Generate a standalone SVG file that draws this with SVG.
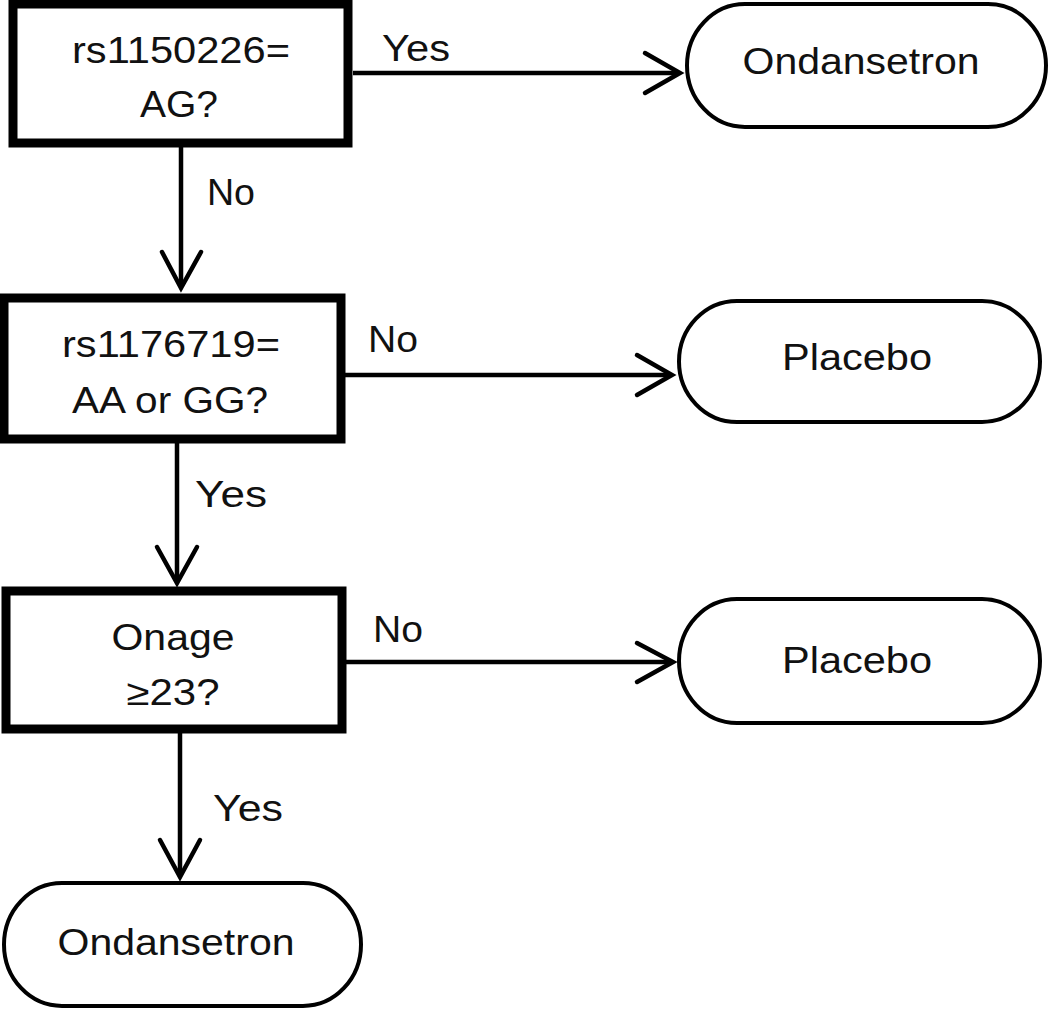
<svg xmlns="http://www.w3.org/2000/svg" width="1050" height="1011" viewBox="0 0 1050 1011">
<style>
.box{fill:#fff;stroke:#000;stroke-width:9}
.pill{fill:#fff;stroke:#000;stroke-width:4}
.t{font-family:"Liberation Sans",Arial,sans-serif;font-size:36px;fill:#111;text-anchor:middle}
.lbl{font-family:"Liberation Sans",Arial,sans-serif;font-size:36px;fill:#111;text-anchor:middle}
.c{fill:none;stroke:#000;stroke-width:4.5}
.ah{fill:none;stroke:#000;stroke-width:4.5;stroke-linecap:round;stroke-linejoin:miter}
</style>
<rect width="1050" height="1011" fill="#fff"/>
<g id="connectors">
<path class="c" d="M353 73 H678"/><path class="ah" d="M645 53 L680 73 L645 93"/>
<path class="c" d="M181 147 V286"/><path class="ah" d="M162 252 L181 288 L201 252"/>
<path class="c" d="M345 375 H670"/><path class="ah" d="M637 355 L672 375 L637 395"/>
<path class="c" d="M177 442 V581"/><path class="ah" d="M157 547 L177 583 L197 547"/>
<path class="c" d="M346 662 H671"/><path class="ah" d="M637 643 L673 662 L637 682"/>
<path class="c" d="M180 733 V875"/><path class="ah" d="M160 840 L180 877 L200 840"/>
<text class="lbl" x="416" y="61" textLength="68" lengthAdjust="spacingAndGlyphs">Yes</text>
<text class="lbl" x="231" y="205" textLength="48" lengthAdjust="spacingAndGlyphs">No</text>
<text class="lbl" x="393" y="352" textLength="50" lengthAdjust="spacingAndGlyphs">No</text>
<text class="lbl" x="231" y="507" textLength="72" lengthAdjust="spacingAndGlyphs">Yes</text>
<text class="lbl" x="398" y="642" textLength="50" lengthAdjust="spacingAndGlyphs">No</text>
<text class="lbl" x="248" y="821" textLength="70" lengthAdjust="spacingAndGlyphs">Yes</text>
</g>
<g id="q1">
<rect class="box" x="13" y="4" width="335" height="139"/>
<text class="t" x="181" y="63" textLength="218" lengthAdjust="spacingAndGlyphs">rs1150226=</text>
<text class="t" x="179" y="117" textLength="78" lengthAdjust="spacingAndGlyphs">AG?</text>
</g>
<g id="ondansetron1">
<rect class="pill" x="687" y="4" width="359" height="123" rx="58" ry="61.5"/>
<text class="t" x="861" y="74" textLength="237" lengthAdjust="spacingAndGlyphs">Ondansetron</text>
</g>
<g id="q2">
<rect class="box" x="4" y="298" width="337" height="141"/>
<text class="t" x="171" y="357" textLength="218" lengthAdjust="spacingAndGlyphs">rs1176719=</text>
<text class="t" x="170" y="413" textLength="196" lengthAdjust="spacingAndGlyphs">AA or GG?</text>
</g>
<g id="placebo1">
<rect class="pill" x="679" y="301" width="361" height="121" rx="58" ry="60.5"/>
<text class="t" x="857" y="370" textLength="150" lengthAdjust="spacingAndGlyphs">Placebo</text>
</g>
<g id="q3">
<rect class="box" x="6" y="591" width="336" height="138"/>
<text class="t" x="173" y="650" textLength="123" lengthAdjust="spacingAndGlyphs">Onage</text>
<text class="t" x="173" y="705" textLength="93" lengthAdjust="spacingAndGlyphs">≥23?</text>
</g>
<g id="placebo2">
<rect class="pill" x="679" y="599" width="361" height="124" rx="58" ry="62"/>
<text class="t" x="857" y="673" textLength="150" lengthAdjust="spacingAndGlyphs">Placebo</text>
</g>
<g id="ondansetron2">
<rect class="pill" x="4" y="883" width="357" height="123" rx="58" ry="61.5"/>
<text class="t" x="176" y="955" textLength="237" lengthAdjust="spacingAndGlyphs">Ondansetron</text>
</g>
</svg>
